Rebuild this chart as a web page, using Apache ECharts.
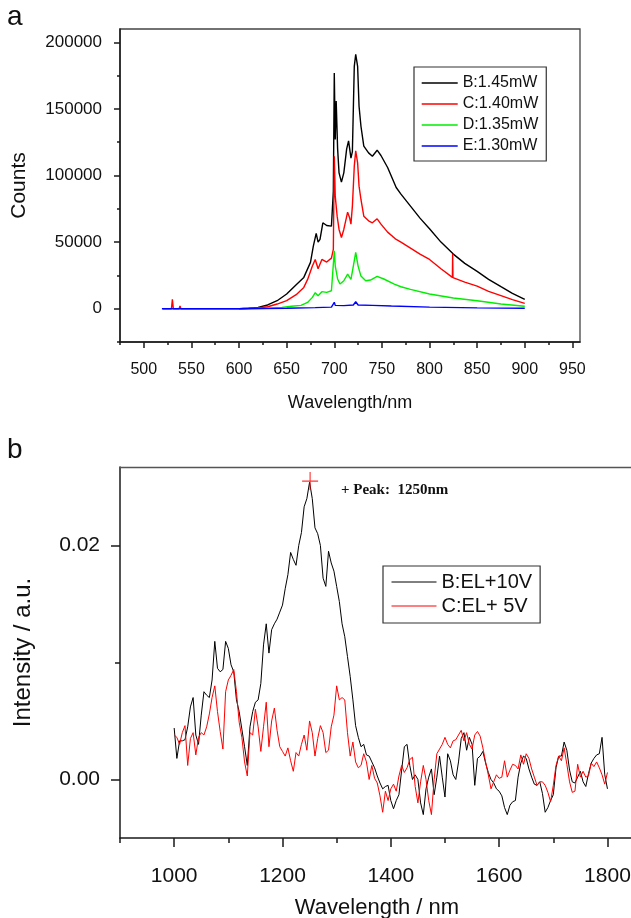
<!DOCTYPE html>
<html>
<head>
<meta charset="utf-8">
<script src="https://cdn.jsdelivr.net/npm/echarts@6/dist/echarts.min.js"></script>
<style>
html,body{margin:0;padding:0;background:#fff;}
#c{width:631px;height:918px;}
</style>
</head>
<body>
<div id="c"></div>
<script>
// ---------- Panel a data ----------
const aNames = ['B:1.45mW', 'C:1.40mW', 'D:1.35mW', 'E:1.30mW'];
const aWlB = [600,610,620,630,640,650,660,668,675,678,681,683,685,688,692,697,699,700,701,702,703.5,705,707.5,710,713,715,717.5,719,721,722.5,724.5,726,728,731,736,740,745,749,756,765,770,780,790,800,812,825,837,850,862,875,887,900];
const aCountsB = [0,300,1000,2800,6000,11000,18000,23500,34800,47000,56500,50000,52000,64500,62500,62000,88000,177000,127000,156000,120000,102000,95000,102000,120000,126000,113000,118000,182000,191000,182000,152000,137000,122000,117000,114500,119000,115000,106000,91000,86000,77000,68000,60000,50000,41000,34000,28000,22000,16500,11500,7000];
const aWlC = [520,529,530,531,537,538,539,545,600,620,630,640,650,660,668,672,677,680,683,687,692,697,699,700,701,703,705,707.5,710,714,716,717.5,719,721,722.5,724.5,726,728,731,736,740,745,749,756,765,770,780,790,800,812,824,824.3,824.6,837,850,862,875,887,900];
const aCountsC = [0,0,7000,0,0,2000,0,0,0,500,1500,3500,6000,10500,16000,22000,32000,37000,30000,37000,35000,38000,44500,114500,84500,69500,59500,53500,59500,72500,68500,63500,77000,107000,118500,109500,92000,82000,69500,66000,64500,67500,63500,57500,52000,50000,45500,41000,37000,30000,23500,41000,23300,20000,17000,13000,9800,6800,4000];
const aWlD = [600,630,645,655,665,672,677,680,683,687,692,697,700,701,703.5,706,710,714,717.5,720,722.5,725,728,733,738,745,752,763,770,780,800,825,850,875,900];
const aCountsD = [0,300,1000,1800,2500,4700,8500,12000,9800,12800,12300,13500,43500,32200,22300,18500,21000,26000,22000,32000,42300,32000,24500,21000,21500,24300,22300,18500,16500,14500,11000,8000,6000,3500,1800];
const aWlE = [519,600,650,680,697,699,700,701,710,720,722.5,725,740,760,800,850,900];
const aCountsE = [0,0,300,800,1200,1500,4800,2500,2300,2800,5200,2800,2500,2000,1200,600,300];
const aXMajor = [500,550,600,650,700,750,800,850,900,950];
const aXMinor = [475,525,575,625,675,725,775,825,875,925];
const aYMajor = [0,50000,100000,150000,200000];
const aYMinor = [-25000,25000,75000,125000,175000];

// ---------- Panel b data ----------
const bNames = ['B:EL+10V', 'C:EL+ 5V'];
const bWl = [1000,1005,1010,1015,1020,1025,1030,1035,1040,1045,1050,1055,1060,1065,1070,1075,1080,1085,1090,1095,
1100,1105,1110,1115,1120,1125,1130,1135,1140,1145,1150,1155,1160,1165,1170,1175,1180,1185,1190,1195,
1200,1205,1210,1215,1220,1225,1230,1235,1240,1245,1250,1255,1260,1265,1270,1275,1280,1285,1290,1295,
1300,1305,1310,1315,1320,1325,1330,1335,1340,1345,1350,1355,1360,1365,1370,1375,1380,1385,1390,1395,
1400,1405,1410,1415,1420,1425,1430,1435,1440,1445,1450,1455,1460,1465,1470,1475,1480,1485,1490,1495,
1500,1505,1510,1515,1520,1525,1530,1535,1540,1545,1550,1555,1560,1565,1570,1575,1580,1585,1590,1595,
1600,1605,1610,1615,1620,1625,1630,1635,1640,1645,1650,1655,1660,1665,1670,1675,1680,1685,1690,1695,
1700,1705,1710,1715,1720,1725,1730,1735,1740,1745,1750,1755,1760,1765,1770,1775,1780,1785,1790,1795,1800];
const bIntB = [0.0044,0.0018,0.0033,0.0033,0.0034,0.0045,0.0062,0.0070,0.0038,0.0030,0.0055,0.0075,0.0072,0.0070,0.0085,0.0118,0.0095,0.0092,0.0094,0.0118,
0.0112,0.0098,0.0092,0.0068,0.0058,0.0043,0.0028,0.0012,0.0045,0.0058,0.0066,0.0068,0.0082,0.0115,0.0133,0.0108,0.0128,0.0133,0.0137,0.0143,
0.0149,0.0163,0.0175,0.0194,0.0188,0.0183,0.0200,0.0211,0.0233,0.0240,0.0254,0.0240,0.0215,0.0210,0.0200,0.0172,0.0165,0.0195,0.0185,0.0178,
0.0165,0.0152,0.0133,0.0122,0.0105,0.0088,0.0068,0.0046,0.0036,0.0028,0.0030,0.0021,0.0020,0.0015,0.0010,0.0003,-0.0003,-0.0008,-0.0006,-0.0005,
-0.0018,-0.0025,-0.0018,-0.0013,0.0008,0.0028,0.0030,0.0012,0.0000,0.0004,0.0000,-0.0020,-0.0030,-0.0008,0.0002,0.0009,-0.0013,0.0002,0.0020,0.0002,
-0.0015,0.0022,0.0016,0.0004,0.0000,0.0015,0.0035,0.0040,0.0025,0.0036,0.0030,-0.0005,0.0018,0.0020,0.0024,0.0014,0.0006,0.0000,-0.0003,-0.0008,
-0.0010,-0.0014,-0.0024,-0.0030,-0.0022,-0.0019,-0.0018,0.0002,0.0014,0.0020,0.0018,0.0009,0.0002,-0.0004,-0.0005,-0.0002,-0.0012,-0.0028,-0.0024,-0.0018,
-0.0013,0.0010,0.0020,0.0020,0.0032,0.0025,0.0008,-0.0002,-0.0003,0.0002,0.0007,-0.0002,-0.0006,0.0005,0.0014,0.0018,0.0021,0.0022,0.0036,0.0004,-0.0008];
const bIntC = [0.0038,0.0036,0.0030,0.0040,0.0046,0.0012,0.0035,0.0040,0.0021,0.0036,0.0040,0.0038,0.0045,0.0056,0.0070,0.0080,0.0058,0.0041,0.0026,0.0075,
0.0085,0.0089,0.0094,0.0075,0.0049,0.0036,0.0015,0.0003,0.0040,0.0038,0.0060,0.0045,0.0024,0.0045,0.0066,0.0028,0.0050,0.0061,0.0042,0.0028,
0.0024,0.0020,0.0027,0.0016,0.0007,0.0023,0.0020,0.0030,0.0038,0.0025,0.0050,0.0040,0.0020,0.0035,0.0046,0.0040,0.0023,0.0025,0.0045,0.0055,
0.0080,0.0068,0.0070,0.0068,0.0040,0.0020,0.0032,0.0015,0.0010,0.0012,0.0022,0.0015,0.0000,0.0012,0.0001,-0.0003,-0.0014,-0.0028,-0.0010,-0.0018,
-0.0008,-0.0004,-0.0010,0.0003,0.0012,0.0006,0.0010,0.0017,0.0019,-0.0006,-0.0020,-0.0002,0.0012,0.0000,-0.0018,-0.0030,0.0000,0.0022,0.0026,0.0030,
0.0036,0.0030,0.0027,0.0033,0.0034,0.0038,0.0042,0.0033,0.0040,0.0030,0.0026,0.0038,0.0041,0.0037,0.0027,0.0015,0.0004,-0.0008,-0.0002,0.0004,
0.0001,0.0002,0.0016,0.0002,0.0008,0.0013,0.0012,0.0009,0.0021,0.0013,0.0022,0.0018,0.0009,0.0002,-0.0005,-0.0002,-0.0002,-0.0005,-0.0011,-0.0019,
-0.0005,0.0012,0.0020,0.0016,0.0027,0.0013,-0.0002,-0.0011,-0.0010,0.0013,0.0002,0.0007,0.0002,0.0003,0.0014,0.0011,0.0015,0.0010,0.0004,-0.0004,0.0006];
const bPeak = [1251, 0.0255];
const bXMajor = [1000,1200,1400,1600,1800];
const bXMinor = [900,1100,1300,1500,1700];
const bYLabels = [0, 0.02];
const bYTicks = [0, 0.02];
const bYMinor = [0.01];

function pairs(xs, ys){ return xs.map((x,i)=>[x, ys[i]]); }

const FONT = 'Liberation Sans, Arial, sans-serif';
const axisCol = '#1a1a1a';

function xAx(grid, min, max, major, minor, fs, margin, majLen, minLen, name, nameGap, nameSize){
  return [
    {gridIndex:grid, type:'value', position:'bottom', min:min, max:max,
     axisLine:{show:true, onZero:false, lineStyle:{color:axisCol, width:1.5}},
     axisTick:{show:true, customValues:major, length:majLen, lineStyle:{color:axisCol, width:1.5}},
     axisLabel:{customValues:major, fontSize:fs, margin:margin, color:'#111', fontFamily:FONT, formatter:v=>String(v)},
     splitLine:{show:false},
     name:name, nameLocation:'middle', nameGap:nameGap,
     nameTextStyle:{fontSize:nameSize, color:'#111', fontFamily:FONT}},
    {gridIndex:grid, type:'value', position:'bottom', offset:0, min:min, max:max,
     axisLine:{show:false, onZero:false},
     axisTick:{show:true, customValues:minor, length:minLen, lineStyle:{color:axisCol, width:1.5}},
     axisLabel:{show:false}, splitLine:{show:false}}
  ];
}
function yAx(grid, min, max, tickVals, labelVals, minor, fs, margin, majLen, minLen, name, nameGap, nameSize, fmt){
  return [
    {gridIndex:grid, type:'value', position:'left', min:min, max:max,
     axisLine:{show:true, onZero:false, lineStyle:{color:axisCol, width:1.5}},
     axisTick:{show:true, customValues:tickVals, length:majLen, lineStyle:{color:axisCol, width:1.5}},
     axisLabel:{customValues:labelVals, fontSize:fs, margin:margin, color:'#111', fontFamily:FONT, formatter:fmt},
     splitLine:{show:false},
     name:name, nameLocation:'middle', nameGap:nameGap,
     nameTextStyle:{fontSize:nameSize, color:'#111', fontFamily:FONT}},
    {gridIndex:grid, type:'value', position:'left', offset:0, min:min, max:max,
     axisLine:{show:false, onZero:false},
     axisTick:{show:true, customValues:minor, length:minLen, lineStyle:{color:axisCol, width:1.5}},
     axisLabel:{show:false}, splitLine:{show:false}}
  ];
}

const aColors = ['#000000', '#ff0000', '#00ee00', '#0000ff'];
const aData = [pairs(aWlB,aCountsB), pairs(aWlC,aCountsC), pairs(aWlD,aCountsD), pairs(aWlE,aCountsE)];

const series = [];
aNames.forEach((n,i)=>{
  series.push({name:n, type:'line', xAxisIndex:0, yAxisIndex:0, data:aData[i], symbol:'none', showSymbol:false,
    lineStyle:{color:aColors[i], width:1.4}, itemStyle:{color:aColors[i]}});
});
const bColors = ['#000000', '#ff0000'];
const bData = [pairs(bWl,bIntB), pairs(bWl,bIntC)];
bNames.forEach((n,i)=>{
  series.push({name:n, type:'line', xAxisIndex:2, yAxisIndex:2, data:bData[i], symbol:'none', showSymbol:false,
    lineStyle:{color:bColors[i], width:1}, itemStyle:{color:bColors[i]}});
});
series.push({name:'peak', type:'scatter', xAxisIndex:2, yAxisIndex:2, data:[bPeak],
  symbol:'path://M0,10 L20,10 M10,0 L10,20', symbolSize:[16,18],
  itemStyle:{color:'rgba(0,0,0,0)', borderColor:'#ff0000', borderWidth:1.2}, silent:true, z:5});

const option = {
  animation:false,
  backgroundColor:'#ffffff',
  grid:[
    {left:120, top:29, width:460, height:313, show:true, borderColor:'#444', borderWidth:1.3, outerBoundsMode:'none', containLabel:false},
    {left:120, top:467, width:514, height:371, show:false, outerBoundsMode:'none', containLabel:false}
  ],
  xAxis:[
    ...xAx(0, 475, 958, aXMajor, aXMinor, 16, 20, 6, 3, 'Wavelength/nm', 52, 18),
    ...xAx(1, 900, 1849, bXMajor, bXMinor, 21, 28, 9, 5, 'Wavelength / nm', 59, 22),
    {gridIndex:1, type:'value', position:'top', min:900, max:1849,
     axisLine:{show:true, onZero:false, lineStyle:{color:'#555', width:1.3}},
     axisTick:{show:false}, axisLabel:{show:false}, splitLine:{show:false}}
  ],
  yAxis:[
    ...yAx(0, -25000, 210000, aYMajor, aYMajor, aYMinor, 17, 18, 6, 3, 'Counts', 90, 21, v=>String(v)),
    ...yAx(1, -0.005, 0.0267, bYTicks, bYLabels, bYMinor, 21, 20, 9, 5, 'Intensity / a.u.', 85, 24, v=>v.toFixed(2))
  ],
  legend:[
    {data:aNames, orient:'vertical', left:414, top:67, itemWidth:36, itemHeight:14, itemGap:5,
     padding:[8,8,7,7], borderColor:'#333', borderWidth:1.2, backgroundColor:'#fff',
     itemStyle:{opacity:0}, lineStyle:{width:1.4},
     textStyle:{fontSize:16, color:'#111', fontFamily:FONT}, selectedMode:false},
    {data:bNames, orient:'vertical', left:383, top:566, itemWidth:45, itemHeight:16, itemGap:4,
     padding:[6,8,7,8], borderColor:'#333', borderWidth:1.2, backgroundColor:'#fff',
     itemStyle:{opacity:0}, lineStyle:{width:1},
     textStyle:{fontSize:20, color:'#111', fontFamily:FONT}, selectedMode:false}
  ],
  graphic:[
    {type:'text', left:7, top:3, style:{text:'a', font:'28px "Liberation Sans"', fill:'#111'}},
    {type:'text', left:7, top:436, style:{text:'b', font:'28px "Liberation Sans"', fill:'#111'}},
    {type:'text', left:341, top:483, style:{text:'+ Peak:  1250nm', font:'bold 15px "Liberation Serif"', fill:'#111'}}
  ],
  series:series
};

const chart = echarts.init(document.getElementById('c'), null, {renderer:'canvas', width:631, height:918});
chart.setOption(option);
</script>
</body>
</html>
